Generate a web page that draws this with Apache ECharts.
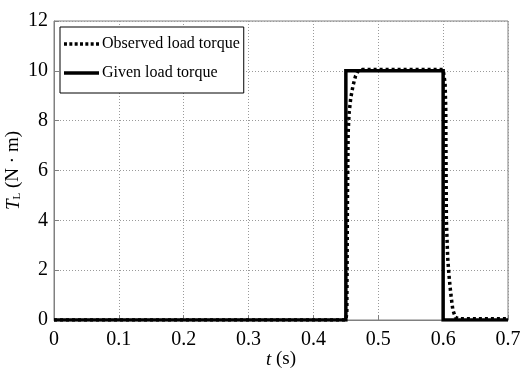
<!DOCTYPE html>
<html>
<head>
<meta charset="utf-8">
<script src="https://cdn.jsdelivr.net/npm/echarts@6/dist/echarts.min.js"></script>
<style>html,body{margin:0;padding:0;background:#fff;}#c{width:526px;height:368px;}</style>
</head>
<body>
<div id="c"></div>
<script>
var xTicks = [0, 0.1, 0.2, 0.3, 0.4, 0.5, 0.6, 0.7];
var yTicks = [0, 2, 4, 6, 8, 10, 12];
var givenT = [0, 0.45, 0.45, 0.6, 0.6, 0.7];
var givenV = [0, 0, 10, 10, 0, 0];
var obsT = [0, 0.45, 0.4515, 0.4525, 0.4535, 0.455, 0.4575, 0.461, 0.465, 0.469, 0.475, 0.6, 0.603, 0.604, 0.6045, 0.605, 0.607, 0.609, 0.612, 0.615, 0.619, 0.624, 0.7];
var obsV = [0, 0, 0.3, 5, 7.5, 8.3, 8.9, 9.4, 9.8, 10, 10.05, 10.05, 9.5, 8.5, 6, 4, 2.5, 1.8, 1, 0.4, 0.1, 0.05, 0.05];
var seriesNames = ['Observed load torque', 'Given load torque'];

function pairs(t, v) { return t.map(function (x, i) { return [x, v[i]]; }); }
var FONT = 'Liberation Serif';
var dotIcon = 'path://M0,0h3.4v4h-3.4z M6.1,0h3.4v4h-3.4z M12.2,0h3.4v4h-3.4z M18.3,0h3.4v4h-3.4z M24.4,0h3.4v4h-3.4z M30.5,0h3.4v4h-3.4z M36.6,0h3.4v4h-3.4z';
var solidIcon = 'path://M0,0h40v4h-40z';
var chart = echarts.init(document.getElementById('c'), null, { renderer: 'canvas' });
chart.setOption({
  animation: false,
  backgroundColor: '#fff',
  textStyle: { fontFamily: FONT },
  grid: { left: 54, right: 18, top: 21, bottom: 48, show: true, borderColor: '#808080', borderWidth: 1, containLabel: false, outerBoundsMode: 'none' },
  legend: {
    data: [{ name: seriesNames[0], icon: dotIcon }, { name: seriesNames[1], icon: solidIcon }],
    orient: 'vertical',
    left: 60, top: 27,
    padding: [9, 4, 12, 4],
    itemGap: 13,
    itemWidth: 37, itemHeight: 3.5,
    backgroundColor: '#fff',
    borderColor: '#000', borderWidth: 1,
    itemStyle: { color: '#000' },
    textStyle: { fontFamily: FONT, fontSize: 16, color: '#000', padding: [0, 0, 0, -3], lineHeight: 16 }
  },
  xAxis: {
    type: 'value', min: 0, max: 0.7, interval: 0.1,
    name: '{i|t} (s)', nameLocation: 'middle', nameGap: 30, nameMoveOverlap: false,
    nameTextStyle: { fontFamily: FONT, fontSize: 19, color: '#000', rich: { i: { fontFamily: FONT, fontStyle: 'italic', fontSize: 19 } } },
    axisLine: { show: true, lineStyle: { color: '#808080', width: 1 } },
    axisTick: { show: true, inside: true, length: 5, lineStyle: { color: '#808080' } },
    axisLabel: { fontFamily: FONT, fontSize: 20, color: '#000', margin: 10, formatter: function (v) { return String(Math.round(v * 10) / 10); } },
    splitLine: { show: true, lineStyle: { color: '#9a9a9a', type: [1, 2], width: 1 } }
  },
  yAxis: {
    type: 'value', min: 0, max: 12, interval: 2,
    name: '{i|T}{s|L} (N · m)', nameLocation: 'middle', nameGap: 31, nameRotate: 90, nameMoveOverlap: false,
    nameTextStyle: { fontFamily: FONT, fontSize: 19, color: '#000', rich: { i: { fontFamily: FONT, fontStyle: 'italic', fontSize: 19 }, s: { fontFamily: FONT, fontSize: 11, verticalAlign: 'bottom', padding: [8, 0, 0, 0] } } },
    axisLine: { show: true, lineStyle: { color: '#808080', width: 1 } },
    axisTick: { show: true, inside: true, length: 5, lineStyle: { color: '#808080' } },
    axisLabel: { fontFamily: FONT, fontSize: 20, color: '#000', margin: 6 },
    splitLine: { show: true, lineStyle: { color: '#9a9a9a', type: [1, 2], width: 1 } }
  },
  series: [
    {
      name: seriesNames[1], type: 'line', data: pairs(givenT, givenV),
      symbol: 'none', z: 2,
      lineStyle: { color: '#000', width: 3.5, type: 'solid', cap: 'butt', join: 'miter' },
      itemStyle: { color: '#000' }
    },
    {
      name: seriesNames[0], type: 'line', data: pairs(obsT, obsV),
      symbol: 'none', z: 3,
      lineStyle: { color: '#000', width: 3.5, type: [3, 3], cap: 'butt' },
      itemStyle: { color: '#000' }
    }
  ]
});
</script>
</body>
</html>
